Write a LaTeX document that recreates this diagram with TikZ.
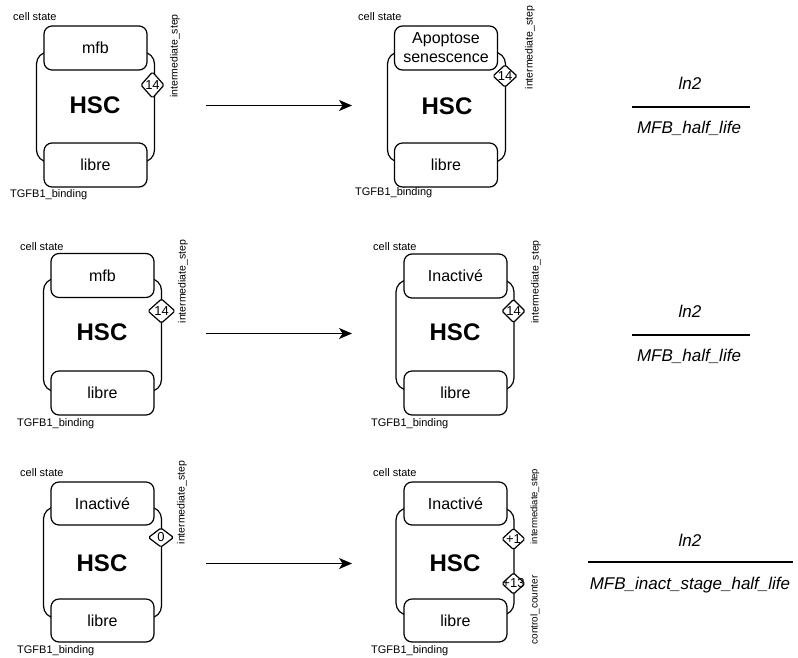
\documentclass[tikz,border=0pt]{standalone}
\usepackage{fontspec}
\setmainfont{Liberation Sans}
\usetikzlibrary{arrows.meta}
\newcommand\mydiamond[6]{%
  \coordinate (#1c) at (#2,#3);
  \draw[diab] (#1c) ++(-#4,0) -- ++(#4,#5) -- ++(#4,-#5) -- ++(-#4,-#5) -- cycle;
  \node[dtxt] (#1) at (#1c) {#6};}
\begin{document}
\begin{tikzpicture}[x=1pt,y=-1pt,
 lw/.style={line width=1.2pt},
 outer/.style={draw, lw, rounded corners=12pt, inner sep=0pt, minimum width=118pt, minimum height=110pt},
 hsc/.style={inner sep=0pt, font=\fontsize{24}{28}\selectfont\bfseries},
 inbox/.style={draw, lw, fill=white, rounded corners=8pt, inner sep=1pt, align=center, minimum width=103pt, minimum height=44pt, font=\fontsize{16}{19}\selectfont},
 diab/.style={draw, lw, fill=white, rounded corners=1.5pt},
 dtxt/.style={inner sep=0pt, font=\fontsize{13}{15}\selectfont},
 lab/.style={inner sep=0pt, anchor=west, font=\fontsize{11}{13}\selectfont},
 vlab/.style={inner sep=0pt, rotate=90, font=\fontsize{10.5}{12}\selectfont},
 frac/.style={inner sep=0pt, font=\fontsize{17}{20}\selectfont\itshape},
 arr/.style={line width=1.3pt, -{Stealth[length=13pt,width=11pt,inset=3.5pt]}},
 fl/.style={line width=1.2pt},
]
\useasboundingbox (0,0) rectangle (798,657);

% ---------------- Row 1 ----------------
\node[outer] (o1) at (95.5,107) {};
\node[hsc] (h1) at (95,105) {HSC};
\node[inbox] (t1) at (95.5,48) {mfb};
\node[inbox] (b1) at (95.5,165) {libre};
\mydiamond{d1}{152.5}{85}{11.5}{13}{14}
\node[vlab] (v1) at (175,56) {intermediate\_step};
\node[lab] (c1) at (13,17) {cell state};
\node[lab] (g1) at (10,195) {TGFB1\_binding};

\node[outer] (o4) at (446.5,107) {};
\node[hsc] (h4) at (447,106) {HSC};
\node[inbox] (t4) at (446,48) {Apoptose\\senescence};
\node[inbox] (b4) at (446,165) {libre};
\mydiamond{d4}{505}{76}{12}{11}{14}
\node[vlab] (v4) at (530,47.5) {intermediate\_step};
\node[lab] (c4) at (358,17) {cell state};
\node[lab] (g4) at (355,193) {TGFB1\_binding};

\coordinate (a1s) at (206,105.5);
\coordinate (a1e) at (352,105.5);
\draw[arr] (a1s) -- (a1e);

\node[frac] (n1) at (690,83) {ln2};
\coordinate (f1s) at (632,107);
\coordinate (f1e) at (750,107);
\draw[fl] (f1s) -- (f1e);
\node[frac] (m1) at (689,128) {MFB\_half\_life};

% ---------------- Row 2 ----------------
\node[outer, minimum height=113pt] (o2) at (102.5,335) {};
\node[hsc] (h2) at (102,332) {HSC};
\node[inbox] (t2) at (102.5,275.5) {mfb};
\node[inbox] (b2) at (102.5,393) {libre};
\mydiamond{d2}{161.5}{311}{13.5}{12}{14}
\node[vlab] (v2) at (183,281.5) {intermediate\_step};
\node[lab] (c2) at (20,247) {cell state};
\node[lab] (g2) at (17,424) {TGFB1\_binding};

\node[outer] (o5) at (455,335) {};
\node[hsc] (h5) at (455,332) {HSC};
\node[inbox] (t5) at (455.5,276) {Inactivé};
\node[inbox] (b5) at (455.5,393) {libre};
\mydiamond{d5}{513.5}{311}{11.5}{11.5}{14}
\node[vlab] (v5) at (536,282) {intermediate\_step};
\node[lab] (c5) at (373,247) {cell state};
\node[lab] (g5) at (371,424) {TGFB1\_binding};

\coordinate (a2s) at (206,333.5);
\coordinate (a2e) at (352,333.5);
\draw[arr] (a2s) -- (a2e);

\node[frac] (n2) at (690,311) {ln2};
\coordinate (f2s) at (632,335);
\coordinate (f2e) at (750,335);
\draw[fl] (f2s) -- (f2e);
\node[frac] (m2) at (689,356) {MFB\_half\_life};

% ---------------- Row 3 ----------------
\node[outer, minimum height=111pt] (o3) at (102.5,562.5) {};
\node[hsc] (h3) at (102,563) {HSC};
\node[inbox, minimum height=43pt] (t3) at (102.5,503.5) {Inactivé};
\node[inbox, minimum height=43pt] (b3) at (102.5,620.5) {libre};
\mydiamond{d3}{161}{537.5}{12.5}{9.5}{0}
\node[vlab] (v3) at (182,502.5) {intermediate\_step};
\node[lab] (c3) at (20,473) {cell state};
\node[lab] (g3) at (17,651) {TGFB1\_binding};

\node[outer, minimum height=107pt] (o6) at (455,561.5) {};
\node[hsc] (h6) at (455,563) {HSC};
\node[inbox, minimum height=43pt] (t6) at (455.5,503.5) {Inactivé};
\node[inbox, minimum height=43pt] (b6) at (455.5,620.5) {libre};
\mydiamond{d6}{513.5}{539}{11.5}{10.5}{+1}
\mydiamond{e6}{513.5}{583.5}{11.5}{10.5}{+13}
\node[vlab, font=\fontsize{9.5}{11}\selectfont] (v6) at (535,506.5) {intermediate\_step};
\node[vlab, font=\fontsize{10}{12}\selectfont] (w6) at (535,610) {control\_counter};
\node[lab] (c6) at (373,473) {cell state};
\node[lab] (g6) at (371,651) {TGFB1\_binding};

\coordinate (a3s) at (206,563.5);
\coordinate (a3e) at (352,563.5);
\draw[arr] (a3s) -- (a3e);

\node[frac] (n3) at (690,540) {ln2};
\coordinate (f3s) at (588,562);
\coordinate (f3e) at (793,562);
\draw[fl] (f3s) -- (f3e);
\node[frac] (m3) at (690,585) {MFB\_inact\_stage\_half\_life};
\end{tikzpicture}
\end{document}
